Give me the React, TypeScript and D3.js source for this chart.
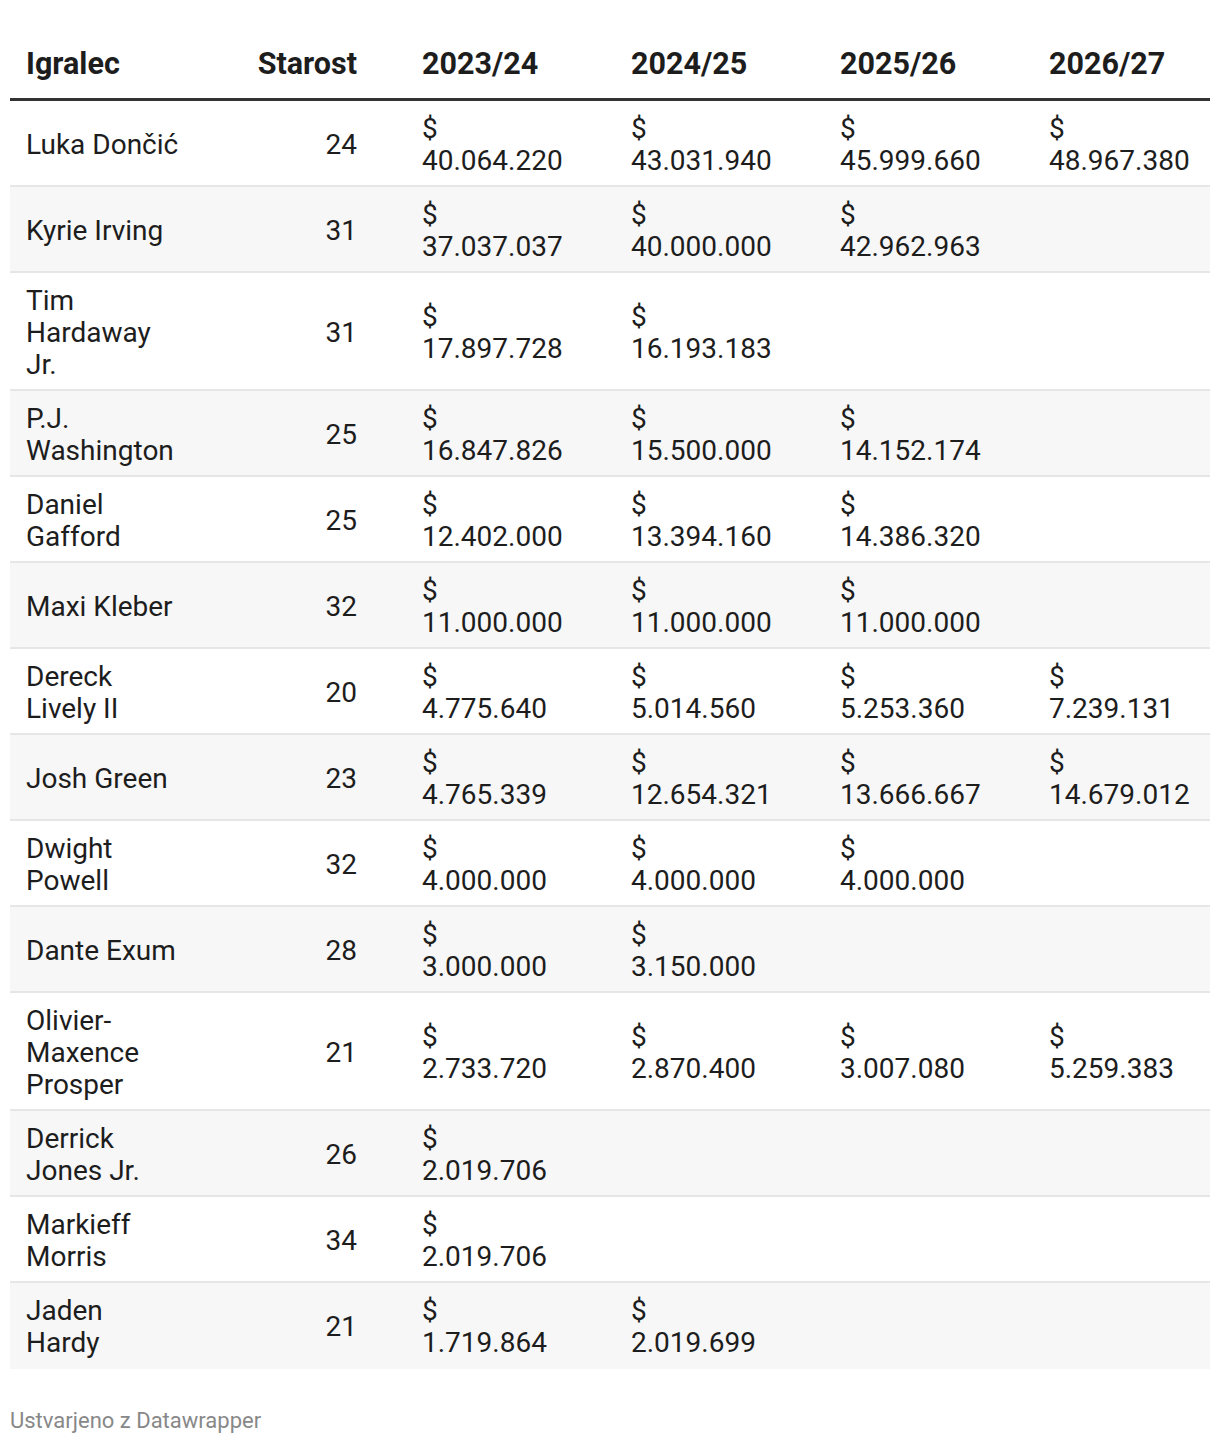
import React, { useEffect, useRef } from "react";
import * as d3 from "d3";

// table content
const players = [
  "Luka Dončić",
  "Kyrie Irving",
  "Tim\nHardaway\nJr.",
  "P.J.\nWashington",
  "Daniel\nGafford",
  "Maxi Kleber",
  "Dereck\nLively II",
  "Josh Green",
  "Dwight\nPowell",
  "Dante Exum",
  "Olivier-\nMaxence\nProsper",
  "Derrick\nJones Jr.",
  "Markieff\nMorris",
  "Jaden\nHardy",
];
const ages = [24, 31, 31, 25, 25, 32, 20, 23, 32, 28, 21, 26, 34, 21];
const seasons = ["2023/24", "2024/25", "2025/26", "2026/27"];
const salary2324 = [40064220, 37037037, 17897728, 16847826, 12402000, 11000000, 4775640, 4765339, 4000000, 3000000, 2733720, 2019706, 2019706, 1719864];
const salary2425 = [43031940, 40000000, 16193183, 15500000, 13394160, 11000000, 5014560, 12654321, 4000000, 3150000, 2870400, null, null, 2019699];
const salary2526 = [45999660, 42962963, null, 14152174, 14386320, 11000000, 5253360, 13666667, 4000000, null, 3007080, null, null, null];
const salary2627 = [48967380, null, null, null, null, null, 7239131, 14679012, null, null, 5259383, null, null, null];
const headers = ["Igralec", "Starost"];
const footer = "Ustvarjeno z Datawrapper";

const WIDTH = 1220;
const HEIGHT = 1444;
const FONT = "Roboto, 'Noto Sans', sans-serif";
const LINE = 32;

function SalaryTable() {
  const ref = useRef<SVGSVGElement>(null);

  useEffect(() => {
    const svg = d3.select(ref.current);
    svg.selectAll("*").remove();

    const locale = d3.formatLocale({ decimal: ",", thousands: ".", grouping: [3], currency: ["$", ""] });
    const money = locale.format(",d");
    const bySeason = [salary2324, salary2425, salary2526, salary2627];

    const rows = players.map((name, i) => {
      const nameLines = name.split("\n");
      const lines = Math.max(nameLines.length, 2);
      return { name: nameLines, age: ages[i], vals: bySeason.map((s) => s[i]), h: lines * LINE + 22 };
    });
    const tableTop = 101;
    const tops = [tableTop, ...Array.from(d3.cumsum(rows, (r) => r.h)).map((v) => v + tableTop)];

    const left = 10;
    const right = 1210;
    const x = d3.scalePoint().domain(seasons).range([422, 1049]);
    const nameX = 26;
    const ageX = 357;

    // header
    const head = svg.append("g").attr("font-family", FONT).attr("font-weight", 700).attr("font-size", 30.5).attr("fill", "#1d1d1d");
    head.append("text").attr("x", nameX).attr("y", 74).text(headers[0]);
    head.append("text").attr("x", ageX).attr("y", 74).attr("text-anchor", "end").text(headers[1]);
    head.selectAll(".season").data(seasons).join("text").attr("class", "season")
      .attr("x", (d) => x(d)!).attr("y", 74).text((d) => d);
    svg.append("rect").attr("x", left).attr("y", 98).attr("width", right - left).attr("height", 3.5).attr("fill", "#333");

    // rows
    const g = svg.selectAll(".row").data(rows).join("g").attr("class", "row")
      .attr("transform", (d, i) => `translate(0,${tops[i]})`)
      .attr("font-family", FONT).attr("font-size", 28).attr("fill", "#1d1d1d");

    g.append("rect").attr("x", left).attr("width", right - left).attr("height", (d) => d.h)
      .attr("fill", (d, i) => (i % 2 === 1 ? "#f7f7f7" : "#fff"));
    g.filter((d, i) => i < rows.length - 1).append("rect")
      .attr("x", left).attr("y", (d) => d.h - 2).attr("width", right - left).attr("height", 2).attr("fill", "#e6e6e6");

    const mid = (d: { h: number }) => (d.h - 2) / 2 + 1;

    g.each(function (d) {
      const row = d3.select(this);
      const c = mid(d);
      const nameText = row.append("text").attr("x", nameX);
      d.name.forEach((ln, k) => {
        nameText.append("tspan").attr("x", nameX)
          .attr("y", c + (k - (d.name.length - 1) / 2) * LINE).attr("dy", "0.35em").text(ln);
      });
      row.append("text").attr("x", ageX).attr("y", c).attr("dy", "0.35em").attr("text-anchor", "end").text(d.age);
      d.vals.forEach((v, k) => {
        if (v == null) return;
        const t = row.append("text").attr("x", x(seasons[k])!);
        t.append("tspan").attr("x", x(seasons[k])!).attr("y", c - LINE / 2).attr("dy", "0.35em").text("$");
        t.append("tspan").attr("x", x(seasons[k])!).attr("y", c + LINE / 2).attr("dy", "0.35em").text(money(v));
      });
    });

    svg.append("text").attr("x", left).attr("y", 1428).attr("font-family", FONT).attr("font-size", 22)
      .attr("fill", "#888").text(footer);
  }, []);

  return <svg ref={ref} width={WIDTH} height={HEIGHT} style={{ display: "block" }} />;
}

export default function App() {
  return (
    <div style={{ position: "absolute", left: 0, top: 0, background: "#fff" }}>
      <SalaryTable />
    </div>
  );
}
